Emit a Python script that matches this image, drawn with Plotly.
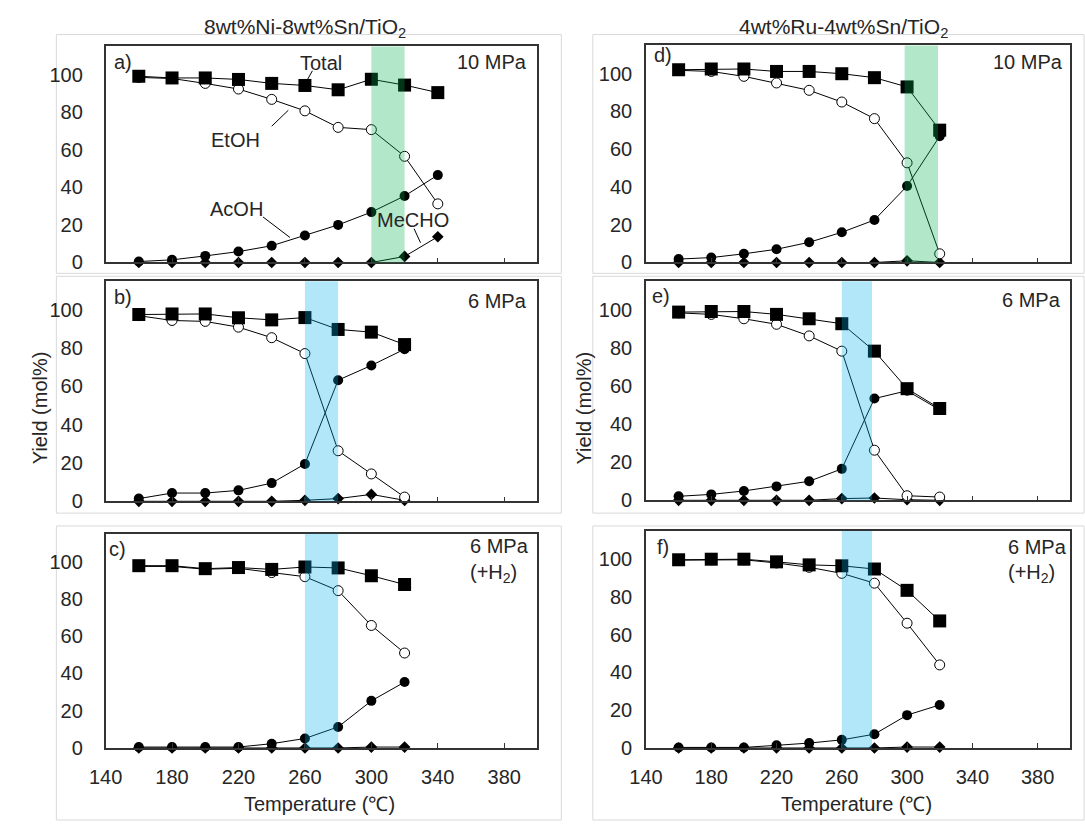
import plotly.graph_objects as go

W, H = 1085, 832

# ---------------- data ----------------
temps_a = [160, 180, 200, 220, 240, 260, 280, 300, 320, 340]
temps = [160, 180, 200, 220, 240, 260, 280, 300, 320]

# a) Ni-Sn 10 MPa
a_total = [99.1, 98.2, 98.2, 97.4, 95.3, 94.2, 91.9, 97.5, 94.4, 90.4]
a_etoh = [98.5, 97.9, 95.3, 92.3, 86.8, 80.7, 71.9, 70.7, 56.5, 31.2]
a_acoh = [0.5, 1.4, 3.5, 5.8, 8.9, 14.4, 20.0, 26.8, 35.4, 46.5]
a_mecho = [0, 0, 0, 0, 0, 0, 0, 0, 3.2, 13.7]

# b) Ni-Sn 6 MPa
b_total = [97.6, 97.9, 97.9, 95.9, 94.8, 96.0, 89.8, 88.4, 81.9]
b_etoh = [97.0, 94.5, 94.0, 91.0, 85.5, 77.2, 26.4, 14.3, 2.2]
b_acoh = [1.4, 4.3, 4.3, 5.7, 9.5, 19.5, 63.3, 71.0, 79.5]
b_mecho = [0, 0, 0, 0, 0, 0.5, 1.4, 3.6, 0.5]

# c) Ni-Sn 6 MPa (+H2)
c_total = [97.9, 97.9, 96.3, 96.9, 95.9, 97.2, 96.7, 92.5, 87.8]
c_etoh = [97.5, 97.5, 96.0, 96.5, 94.2, 92.0, 84.5, 65.8, 51.0]
c_acoh = [0.5, 0.5, 0.5, 0.5, 2.3, 5.1, 11.3, 25.3, 35.4]
c_mecho = [0, 0, 0, 0, 0, 0, 0, 0.5, 0.5]

# d) Ru-Sn 10 MPa
d_total = [102.1, 102.5, 102.5, 101.2, 101.2, 100.0, 97.9, 93.0, 70.1]
d_etoh = [101.8, 101.2, 98.6, 95.1, 91.2, 85.0, 76.2, 52.8, 4.6]
d_acoh = [1.8, 2.6, 4.6, 7.0, 10.7, 16.0, 22.5, 40.5, 66.9]
d_mecho = [0, 0, 0, 0, 0, 0, 0, 0.9, 0]

# e) Ru-Sn 6 MPa
e_total = [98.8, 99.1, 99.1, 97.6, 95.3, 92.7, 78.3, 58.6, 48.2]
e_etoh = [98.4, 97.6, 95.3, 92.4, 86.3, 78.3, 26.3, 2.4, 1.7]
e_acoh = [2.1, 3.1, 4.9, 7.3, 10.0, 16.5, 53.4, 57.5, 47.5]
e_mecho = [0, 0, 0, 0, 0, 0.9, 1.2, 0.3, 0]

# f) Ru-Sn 6 MPa (+H2)
f_total = [99.7, 100.0, 100.0, 98.6, 97.0, 96.5, 94.8, 83.5, 67.3]
f_etoh = [99.5, 99.7, 99.7, 98.0, 95.7, 92.5, 87.3, 66.1, 44.0]
f_acoh = [0.3, 0.3, 0.3, 1.4, 2.6, 4.3, 7.3, 17.4, 22.8]
f_mecho = [0, 0, 0, 0, 0, 0, 0, 0.5, 0.5]

x_ticks = [140, 180, 220, 260, 300, 340, 380]
y_ticks = [0, 20, 40, 60, 80, 100]

# ---------------- layout helpers ----------------
FONT = "Liberation Sans, Arial, sans-serif"
TXT = "#262626"
FS = 20

def px_x(p):
    return p / W

def px_y(p):
    return 1 - p / H

panels = [
    (temps_a, a_total, a_etoh, a_acoh, a_mecho, (90, 528.75), (47, 266), (300, 320),
     "rgba(0,176,80,0.30)", "a)", (144, 106.8), "10 MPa", (394.8, 106.8), "right", None, False, 17),
    (temps, b_total, b_etoh, b_acoh, b_mecho, (90, 528.75), (285, 508), (260, 280),
     "rgba(0,176,240,0.30)", "b)", (144, 106.9), "6 MPa", (394.8, 104.8), "right", None, False, 17),
    (temps, c_total, c_etoh, c_acoh, c_mecho, (90, 528.75), (541, 758), (260, 280),
     "rgba(0,176,240,0.30)", "c)", (141, 107), "6 MPa", (358, 108.3), "left", (358, 93.7), True, 17),
    (temps, d_total, d_etoh, d_acoh, d_mecho, (639, 1070), (46, 266), (298.5, 319),
     "rgba(0,176,80,0.30)", "d)", (143.6, 110), "10 MPa", (397, 106.2), "right", None, False, 8),
    (temps, e_total, e_etoh, e_acoh, e_mecho, (639, 1070), (285, 507), (260, 278.5),
     "rgba(0,176,240,0.30)", "e)", (142.4, 107.4), "6 MPa", (395.3, 105.2), "right", None, False, 8),
    (temps, f_total, f_etoh, f_acoh, f_mecho, (639, 1070), (538, 758), (260, 278.5),
     "rgba(0,176,240,0.30)", "f)", (145.4, 106.6), "6 MPa", (360.9, 106.6), "left", (360.9, 92.2), True, 8),
]

fig = go.Figure()
shapes = []
annotations = []
layout = {}

for i, (T, tot, et, ac, me, xd, yd, band, bcol, lab, labpos, pres, prespos, presanchor,
        h2pos, showx, ystand) in enumerate(panels, start=1):
    xa = "x" if i == 1 else f"x{i}"
    ya = "y" if i == 1 else f"y{i}"
    xkey = "xaxis" if i == 1 else f"xaxis{i}"
    ykey = "yaxis" if i == 1 else f"yaxis{i}"

    # draw order: MeCHO, AcOH, EtOH, Total (on top)
    fig.add_trace(go.Scatter(x=T, y=me, mode="lines+markers", xaxis=xa, yaxis=ya,
                             line=dict(color="black", width=1),
                             marker=dict(symbol="diamond", size=9, color="black"),
                             showlegend=False, cliponaxis=False))
    fig.add_trace(go.Scatter(x=T, y=ac, mode="lines+markers", xaxis=xa, yaxis=ya,
                             line=dict(color="black", width=1),
                             marker=dict(symbol="circle", size=10, color="black"),
                             showlegend=False, cliponaxis=False))
    fig.add_trace(go.Scatter(x=T, y=et, mode="lines+markers", xaxis=xa, yaxis=ya,
                             line=dict(color="black", width=1),
                             marker=dict(symbol="circle", size=10, color="white",
                                         line=dict(color="black", width=1)),
                             showlegend=False, cliponaxis=False))
    fig.add_trace(go.Scatter(x=T, y=tot, mode="lines+markers", xaxis=xa, yaxis=ya,
                             line=dict(color="black", width=1),
                             marker=dict(symbol="square", size=13, color="black"),
                             showlegend=False, cliponaxis=False))

    layout[xkey] = dict(domain=[px_x(xd[0]), px_x(xd[1])], range=[140, 400], anchor=ya,
                        tickvals=x_ticks, ticks="inside", ticklen=5, tickcolor="#333",
                        showticklabels=showx, ticklabelstandoff=10,
                        showline=True, linecolor="#333", linewidth=1.5,
                        mirror=True, showgrid=False, zeroline=False,
                        tickfont=dict(family=FONT, size=FS, color=TXT))
    layout[ykey] = dict(domain=[px_y(yd[1]), px_y(yd[0])], range=[0, 115], anchor=xa,
                        tickvals=y_ticks, ticks="", ticklabelstandoff=ystand,
                        showline=True, linecolor="#333",
                        linewidth=1.5, mirror=True, showgrid=False, zeroline=False,
                        tickfont=dict(family=FONT, size=FS, color=TXT))

    # temperature band (semi-transparent overlay)
    shapes.append(dict(type="rect", xref=xa, yref=f"{ya} domain", x0=band[0], x1=band[1],
                       y0=0, y1=1, fillcolor=bcol, line=dict(width=0), layer="above"))

    annotations.append(dict(x=labpos[0], y=labpos[1], xref=xa, yref=ya, text=lab,
                            showarrow=False, xanchor="left", yanchor="middle",
                            font=dict(family=FONT, size=FS, color=TXT)))
    annotations.append(dict(x=prespos[0], y=prespos[1], xref=xa, yref=ya, text=pres,
                            showarrow=False, xanchor=presanchor, yanchor="middle",
                            font=dict(family=FONT, size=FS, color=TXT)))
    if h2pos is not None:
        annotations.append(dict(x=h2pos[0], y=h2pos[1], xref=xa, yref=ya,
                                text="(+H<sub>2</sub>)",
                                showarrow=False, xanchor="left", yanchor="middle",
                                font=dict(family=FONT, size=FS, color=TXT)))

# series labels in panel a
for txt, tx, ty in [("Total", 269.4, 106.3), ("EtOH", 218.4, 65.1),
                    ("AcOH", 218.6, 28.2), ("MeCHO", 324.9, 22.8)]:
    annotations.append(dict(x=tx, y=ty, xref="x", yref="y", text=txt, showarrow=False,
                            xanchor="center", yanchor="middle",
                            font=dict(family=FONT, size=FS, color=TXT)))
for (x0, y0, x1, y1) in [(264.5, 102, 261, 96.5), (240, 72.5, 250, 81),
                         (234.8, 24.2, 251, 13.3), (325.7, 18, 329.6, 10.5)]:
    shapes.append(dict(type="line", xref="x", yref="y", x0=x0, y0=y0, x1=x1, y1=y1,
                       line=dict(color="black", width=1)))

# outer light frames of each chart area
for (x0, y0, x1, y1) in [(40, 35, 553, 277), (40, 280, 553, 520), (40, 533, 553, 831),
                         (585, 35, 1084, 277), (585, 280, 1084, 520), (585, 533, 1084, 831)]:
    shapes.append(dict(type="rect", xref="paper", yref="paper",
                       x0=px_x(x0), x1=px_x(x1), y0=px_y(y1), y1=px_y(y0),
                       line=dict(color="#d9d9d9", width=1), fillcolor="rgba(0,0,0,0)",
                       layer="below"))

# column titles
annotations.append(dict(x=px_x(292.5), y=px_y(28), xref="paper", yref="paper",
                        text="8wt%Ni-8wt%Sn/TiO<sub>2</sub>", showarrow=False,
                        xanchor="center", yanchor="middle",
                        font=dict(family=FONT, size=21, color=TXT)))
annotations.append(dict(x=px_x(840), y=px_y(28), xref="paper", yref="paper",
                        text="4wt%Ru-4wt%Sn/TiO<sub>2</sub>", showarrow=False,
                        xanchor="center", yanchor="middle",
                        font=dict(family=FONT, size=21, color=TXT)))

# axis titles
for cx in (307, 853):
    annotations.append(dict(x=px_x(cx), y=px_y(815), xref="paper", yref="paper",
                            text="Temperature (℃)", showarrow=False,
                            xanchor="center", yanchor="middle",
                            font=dict(family=FONT, size=FS, color=TXT)))
for cx in (23, 576):
    annotations.append(dict(x=px_x(cx), y=px_y(413), xref="paper", yref="paper",
                            text="Yield (mol%)", showarrow=False, textangle=-90,
                            xanchor="center", yanchor="middle",
                            font=dict(family=FONT, size=FS, color=TXT)))

fig.update_layout(width=W, height=H, margin=dict(l=0, r=0, t=0, b=0),
                  paper_bgcolor="white", plot_bgcolor="white",
                  shapes=shapes, annotations=annotations, showlegend=False,
                  font=dict(family=FONT, color=TXT), **layout)

fig.write_html("out.html")
